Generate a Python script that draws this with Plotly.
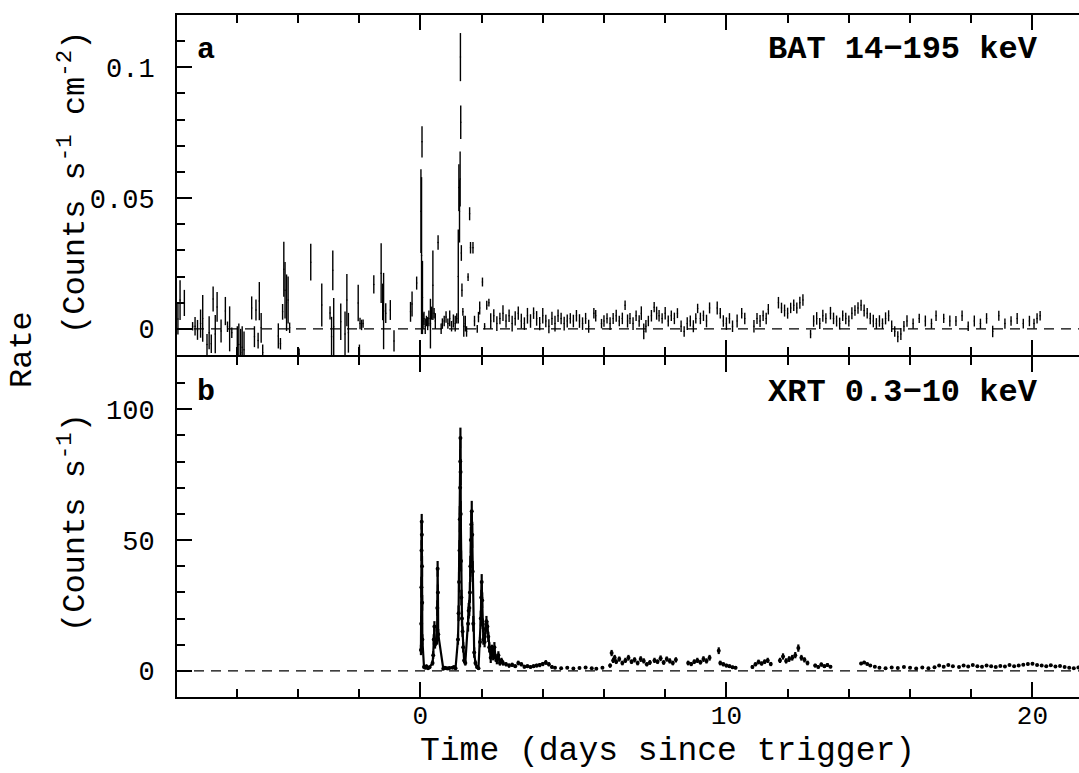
import plotly.graph_objects as go

# ---------------- BAT 14-195 keV (panel a) ----------------
bat_t_pre = [-7.92, -7.85, -7.71, -7.44, -7.36, -7.28, -7.18, -7.11, -6.97, -6.90,
             -6.83, -6.77, -6.70, -6.64, -6.51, -6.37, -6.30, -6.23, -6.16, -5.98,
             -5.93, -5.87, -5.82, -5.76, -5.51, -5.42, -5.37, -5.30, -5.26, -5.20,
             -5.15, -4.64, -4.57, -4.50, -4.46, -4.42, -4.37, -4.32, -4.27, -3.96,
             -3.58, -3.22, -2.95, -2.90, -2.86, -2.83, -2.60, -2.46, -2.40, -2.35,
             -2.03, -1.99, -1.97, -1.92, -1.87, -1.52, -1.28, -1.23, -1.20, -1.13,
             -0.98, -0.86, -0.32, -0.27, -0.12]
bat_r_pre = [0.0038, 0.0110, 0.0099, 0.0010, 0.0010, -0.0004, 0.0020, 0.0040, -0.0060, -0.0015,
             -0.0057, 0.0114, -0.0020, 0.0084, -0.0008, 0.0068, 0.0008, 0.0000, -0.0015, -0.0080,
             -0.0060, -0.0090, -0.0070, -0.0080, 0.0080, -0.0030, 0.0072, -0.0045, 0.0106, 0.0004,
             -0.0090, -0.0027, -0.0057, 0.0065, 0.0228, 0.0148, 0.0100, 0.0110, 0.0004, -0.0095,
             0.0255, 0.0091, 0.0061, -0.0030, 0.0224, 0.0008, 0.0027, -0.0020, 0.0110, -0.0015,
             0.0099, -0.0080, 0.0020, 0.0015, 0.0020, 0.0170, 0.0213, 0.0103, 0.0068, 0.0060,
             0.0072, -0.0046, 0.0065, 0.0095, 0.0175]
bat_e_pre = [0.0060, 0.0076, 0.0050, 0.0016, 0.0035, 0.0038, 0.0054, 0.0089, 0.0040, 0.0063,
             0.0035, 0.0048, 0.0073, 0.0057, 0.0044, 0.0054, 0.0020, 0.0086, 0.0020, 0.0090,
             0.0080, 0.0090, 0.0080, 0.0070, 0.0044, 0.0040, 0.0040, 0.0030, 0.0073, 0.0057,
             0.0030, 0.0048, 0.0022, 0.0030, 0.0105, 0.0108, 0.0108, 0.0090, 0.0020, 0.0020,
             0.0070, 0.0082, 0.0025, 0.0076, 0.0076, 0.0110, 0.0070, 0.0086, 0.0100, 0.0076,
             0.0070, 0.0020, 0.0022, 0.0020, 0.0016, 0.0035, 0.0114, 0.0070, 0.0146, 0.0038,
             0.0038, 0.0041, 0.0038, 0.0048, 0.0025]

bat_t_burst = [0.02, 0.04, 0.055, 0.07, 0.09, 0.12, 0.16, 0.20, 0.24, 0.28,
               0.33, 0.37, 0.41, 0.45, 0.49, 0.58, 0.68, 0.72, 0.78, 0.84,
               0.90, 0.96, 1.02, 1.08, 1.14, 1.19, 1.24, 1.26, 1.28, 1.30,
               1.31, 1.32, 1.34, 1.36, 1.39, 1.42, 1.47, 1.51, 1.56, 1.61,
               1.64, 1.72, 1.77, 1.86, 1.90, 1.94, 2.03, 2.10, 2.17, 2.24]
bat_r_burst = [0.045, 0.028, 0.0715, 0.012, 0.003, 0.004, 0.001, 0.003, 0.002, 0.004,
               0.002, 0.006, 0.0167, 0.006, 0.003, 0.033, 0.000, 0.002, 0.003, 0.0045,
               0.002, 0.004, 0.001, 0.003, 0.002, 0.004, 0.020, 0.054, 0.045, 0.0573,
               0.1039, 0.079, 0.029, 0.0148, 0.0065, 0.001, 0.002, -0.001, 0.0198, 0.044,
               0.031, 0.031, 0.003, 0.000, 0.0045, 0.008, 0.0179, 0.001, 0.009, 0.010]
bat_e_burst = [0.016, 0.030, 0.006, 0.014, 0.003, 0.0025, 0.003, 0.002, 0.0025, 0.003,
               0.0095, 0.0025, 0.0133, 0.002, 0.003, 0.0028, 0.002, 0.002, 0.002, 0.0022,
               0.002, 0.003, 0.002, 0.0025, 0.003, 0.002, 0.018, 0.0089, 0.012, 0.0105,
               0.0092, 0.0064, 0.003, 0.0025, 0.0015, 0.004, 0.003, 0.002, 0.0015, 0.0025,
               0.0022, 0.0022, 0.002, 0.0015, 0.002, 0.0025, 0.0017, 0.0012, 0.0017, 0.0015]

bat_t_late = [2.30, 2.40, 2.50, 2.60, 2.70, 2.80, 2.90, 3.00, 3.10, 3.20,
              3.30, 3.40, 3.50, 3.60, 3.70, 3.80, 3.90, 4.00, 4.10, 4.20,
              4.30, 4.40, 4.50, 4.60, 4.70, 4.80, 4.90, 5.00, 5.10, 5.20,
              5.30, 5.40, 5.50, 5.67, 5.73, 5.92, 6.00, 6.10, 6.20, 6.30,
              6.40, 6.50, 6.60, 6.69, 6.77, 6.85, 6.95, 7.05, 7.15, 7.22,
              7.30, 7.37, 7.45, 7.55, 7.64, 7.72, 7.80, 7.90, 8.00, 8.10,
              8.20, 8.30, 8.40, 8.52, 8.62, 8.72, 8.82, 8.92, 9.00, 9.06,
              9.15, 9.25, 9.35, 9.45, 9.70, 9.80, 9.90, 10.00, 10.10, 10.20,
              10.35, 10.50, 10.60, 10.90, 11.00, 11.10, 11.20, 11.30, 11.37, 11.70,
              11.80, 11.90, 12.00, 12.10, 12.20, 12.30, 12.40, 12.50, 12.75, 12.85,
              12.95, 13.05, 13.15, 13.25, 13.40, 13.50, 13.60, 13.70, 13.80, 13.90,
              14.00, 14.10, 14.20, 14.30, 14.40, 14.50, 14.60, 14.70, 14.80, 14.90,
              15.00, 15.10, 15.20, 15.30, 15.40, 15.50, 15.60, 15.70, 15.80, 15.90,
              16.10, 16.30, 16.50, 16.70, 16.85, 17.10, 17.30, 17.50, 17.70, 17.90,
              18.10, 18.30, 18.50, 18.70, 18.90, 19.10, 19.30, 19.50, 19.70, 19.90,
              20.05, 20.15, 20.25]
bat_r_late = [0.003, 0.005, 0.002, 0.004, 0.006, 0.003, 0.005, 0.002, 0.004, 0.006,
              0.003, 0.002, 0.005, 0.003, 0.006, 0.004, 0.002, 0.005, 0.003, 0.001,
              0.004, 0.002, 0.005, 0.004, 0.002, 0.003, 0.004, 0.003, 0.005, 0.003,
              0.002, 0.004, 0.001, 0.006, 0.005, 0.002, 0.003, 0.004, 0.002, 0.004,
              0.005, 0.003, 0.004, 0.009, 0.003, 0.004, 0.002, 0.005, 0.003, 0.006,
              -0.001, 0.001, 0.003, 0.005, 0.0083, 0.006, 0.005, 0.004, 0.006, 0.003,
              0.005, 0.004, 0.006, 0.001, -0.001, 0.002, 0.003, 0.001, 0.004, 0.0078,
              0.004, 0.005, 0.003, 0.008, 0.008, 0.006, 0.003, 0.002, 0.004, 0.001,
              0.003, 0.006, 0.004, 0.001, 0.004, 0.003, 0.005, 0.004, 0.0075, 0.010,
              0.008, 0.007, 0.006, 0.008, 0.009, 0.008, 0.010, 0.011, -0.002, 0.003,
              0.004, 0.002, 0.005, 0.004, 0.006, 0.004, 0.003, 0.002, 0.005, 0.004,
              0.003, 0.006, 0.007, 0.008, 0.009, 0.007, 0.006, 0.004, 0.003, 0.002,
              0.003, 0.002, 0.004, 0.005, 0.001, -0.001, -0.003, -0.002, 0.001, 0.003,
              0.002, 0.004, 0.003, 0.002, 0.005, 0.004, 0.003, 0.003, 0.005, 0.001,
              0.003, 0.002, 0.004, -0.001, 0.005, 0.002, 0.003, 0.004, 0.002, 0.003,
              0.002, 0.004, 0.005]
bat_e_late = [0.0030, 0.0025, 0.0028, 0.0022, 0.0030, 0.0026, 0.0024, 0.0030, 0.0027, 0.0025,
              0.0028, 0.0024, 0.0030, 0.0026, 0.0022, 0.0028, 0.0025, 0.0030, 0.0024, 0.0027,
              0.0025, 0.0030, 0.0024, 0.0022, 0.0026, 0.0025, 0.0020, 0.0024, 0.0022, 0.0026,
              0.0024, 0.0021, 0.0025, 0.0020, 0.0022, 0.0018, 0.0022, 0.0020, 0.0024, 0.0021,
              0.0023, 0.0020, 0.0022, 0.0018, 0.0025, 0.0021, 0.0024, 0.0020, 0.0022, 0.0026,
              0.0030, 0.0024, 0.0020, 0.0022, 0.0020, 0.0025, 0.0022, 0.0020, 0.0024, 0.0021,
              0.0020, 0.0022, 0.0019, 0.0022, 0.0020, 0.0024, 0.0021, 0.0023, 0.0020, 0.0018,
              0.0022, 0.0020, 0.0024, 0.0021, 0.0025, 0.0020, 0.0022, 0.0024, 0.0020, 0.0022,
              0.0025, 0.0020, 0.0022, 0.0024, 0.0021, 0.0023, 0.0020, 0.0022, 0.0020, 0.0022,
              0.0020, 0.0023, 0.0021, 0.0020, 0.0022, 0.0021, 0.0023, 0.0022, 0.0016, 0.0022,
              0.0024, 0.0021, 0.0023, 0.0020, 0.0024, 0.0022, 0.0021, 0.0023, 0.0020, 0.0022,
              0.0021, 0.0023, 0.0020, 0.0022, 0.0021, 0.0023, 0.0020, 0.0022, 0.0024, 0.0021,
              0.0022, 0.0020, 0.0023, 0.0021, 0.0022, 0.0020, 0.0021, 0.0023, 0.0020, 0.0022,
              0.0020, 0.0018, 0.0021, 0.0019, 0.0020, 0.0018, 0.0021, 0.0019, 0.0020, 0.0018,
              0.0021, 0.0019, 0.0020, 0.0022, 0.0019, 0.0020, 0.0018, 0.0021, 0.0019, 0.0020,
              0.0019, 0.0020, 0.0018]

# ---------------- XRT 0.3-10 keV (panel b) ----------------
xrt_t_flares = [0.020, 0.028, 0.034, 0.040, 0.045, 0.050, 0.055, 0.060, 0.066,
                0.12, 0.16, 0.20, 0.25, 0.30,
                0.40, 0.42, 0.44, 0.46, 0.48,
                0.545, 0.555, 0.565, 0.575, 0.585,
                0.75, 0.80, 0.85, 0.90, 0.95, 1.05, 1.10, 1.15,
                1.23, 1.25, 1.265, 1.28, 1.29, 1.30, 1.305, 1.31, 1.315, 1.32, 1.33, 1.34, 1.36, 1.38, 1.40, 1.43, 1.47,
                1.56, 1.58, 1.60, 1.62, 1.635, 1.65, 1.665, 1.68, 1.695, 1.71, 1.73, 1.76, 1.80, 1.85, 1.90,
                1.95, 1.975, 1.99, 2.005, 2.02, 2.04, 2.06,
                2.10, 2.13, 2.16, 2.19, 2.22, 2.25]
xrt_r_flares = [8, 18, 32, 46, 57, 52, 40, 26, 12,
                1.5, 1.2, 1.8, 1.0, 1.4,
                3, 6, 12, 17, 10,
                12, 24, 39, 30, 14,
                0.8, 1.2, 1.0, 0.9, 1.1, 1.2, 1.5, 1.0,
                12, 22, 34, 46, 58, 70, 80, 89, 76, 60, 42, 28, 20, 15, 9, 4, 3,
                18, 23, 24, 30, 40, 50, 56, 61, 52, 38, 18, 7, 3, 1.5, 1.0,
                11, 20, 28, 34, 27, 18, 12,
                11, 16, 19, 17, 13, 9]
xrt_e_flares = [2, 3, 4, 4, 3, 4, 4, 3, 2,
                0.4, 0.4, 0.4, 0.4, 0.4,
                1, 1.5, 2, 2, 1.5,
                2, 3, 3, 3, 2,
                0.4, 0.4, 0.4, 0.4, 0.4, 0.4, 0.4, 0.4,
                2, 3, 4, 4, 5, 5, 5, 4, 5, 5, 4, 3, 3, 2, 2, 1, 1,
                3, 3, 3, 4, 4, 5, 5, 4, 5, 4, 3, 2, 1, 0.5, 0.5,
                2, 3, 3, 3, 3, 2, 2,
                2, 2, 2, 2, 2, 2]

xrt_t_decay = [2.30, 2.34, 2.38, 2.42, 2.46, 2.50, 2.55, 2.60, 2.65, 2.70,
               2.80, 2.90, 3.00, 3.10, 3.20, 3.30, 3.40, 3.50, 3.60, 3.70,
               3.80, 3.90, 4.00, 4.10, 4.20, 4.30, 4.40, 4.60, 4.80, 5.00,
               5.20, 5.40, 5.60, 5.75, 5.95]
xrt_r_decay = [5, 8, 6, 9, 5, 4, 6, 3, 4, 3,
               2.5, 2, 2.3, 1.8, 3, 2.5, 1.6, 1.8, 1.5, 1.8,
               2, 2.2, 2.6, 3.2, 2.5, 1.5, 1.2, 1.0, 1.2, 0.9,
               1.1, 1.3, 1.0, 0.8, 1.2]
xrt_e_decay = [2, 2, 2, 2, 1.5, 1.5, 1.5, 1, 1, 1,
               0.8, 0.8, 0.8, 0.7, 0.9, 0.8, 0.7, 0.7, 0.6, 0.7,
               0.7, 0.8, 0.8, 0.9, 0.8, 0.6, 0.5, 0.5, 0.5, 0.4,
               0.5, 0.5, 0.4, 0.4, 0.5]

xrt_t_mid = [6.20, 6.25, 6.30, 6.35, 6.40, 6.50, 6.60, 6.70, 6.80, 6.90,
             7.00, 7.10, 7.20, 7.30, 7.40, 7.50, 7.65, 7.75, 7.85, 7.95,
             8.05, 8.15, 8.25, 8.35, 8.75, 8.85, 8.95, 9.05, 9.15, 9.25,
             9.35, 9.45, 9.75, 9.80, 9.90, 10.00, 10.10, 10.20, 10.30, 10.85,
             10.95, 11.05, 11.15, 11.25, 11.35, 11.45, 11.75, 11.85, 11.95, 12.05,
             12.15, 12.25, 12.35, 12.45, 12.55, 12.65, 12.90, 13.00, 13.10, 13.20,
             13.30, 13.40]
xrt_r_mid = [2, 6.8, 4, 5, 3.5, 4.5, 3, 4, 5, 3.5,
             4.2, 3, 4.5, 3.8, 2.5, 3.2, 4, 3.5, 4.8, 3.2,
             4.5, 3.8, 3, 4.2, 3, 2.6, 3.5, 4, 3.3, 4.5,
             3.8, 5, 7.7, 3, 2.5, 2, 1.8, 1.4, 1.2, 1.5,
             2.5, 3.4, 2.8, 3.5, 4, 2.6, 4, 5.5, 3.8, 4.5,
             5, 6, 8.7, 5, 4.2, 3, 2, 1.5, 2.4, 1.8,
             2.2, 1.6]
xrt_e_mid = [0.8, 1.2, 1.0, 1.1, 0.9, 1.0, 0.9, 1.0, 1.1, 0.9,
             1.0, 0.9, 1.1, 1.0, 0.8, 0.9, 1.0, 0.9, 1.1, 0.9,
             1.0, 1.0, 0.9, 1.0, 0.9, 0.8, 0.9, 1.0, 0.9, 1.1,
             1.0, 1.1, 1.3, 0.9, 0.8, 0.7, 0.7, 0.6, 0.6, 0.7,
             0.8, 0.9, 0.8, 0.9, 1.0, 0.8, 1.0, 1.2, 1.0, 1.1,
             1.1, 1.2, 1.4, 1.1, 1.0, 0.9, 0.7, 0.6, 0.8, 0.7,
             0.7, 0.6]

xrt_t_late = [14.40, 14.50, 14.60, 14.70, 14.85, 15.00, 15.20, 15.40, 15.60, 15.80,
              16.00, 16.20, 16.40, 16.60, 16.80, 16.95, 17.10, 17.25, 17.40, 17.60,
              17.75, 17.90, 18.05, 18.20, 18.35, 18.50, 18.65, 18.80, 18.95, 19.10,
              19.25, 19.40, 19.55, 19.70, 19.85, 20.00, 20.15, 20.30, 20.45, 20.60,
              20.75, 20.90, 21.05, 21.20, 21.35, 21.50]
xrt_r_late = [2.8, 3.2, 2.6, 2.0, 1.6, 1.2, 1.0, 1.3, 1.1, 1.5,
              1.2, 0.9, 1.3, 1.0, 1.4, 2.0, 1.6, 2.2, 1.8, 1.5,
              2.0, 1.7, 2.2, 1.8, 1.6, 2.0, 1.8, 1.5, 1.9, 1.7,
              2.2, 1.8, 2.0, 2.3, 2.6, 2.7, 2.2, 2.0, 1.8, 2.1,
              1.7, 1.9, 1.5, 1.2, 1.0, 1.3]
xrt_e_late = [0.6, 0.6, 0.5, 0.5, 0.4, 0.4, 0.3, 0.4, 0.3, 0.4,
              0.4, 0.3, 0.4, 0.3, 0.4, 0.4, 0.4, 0.4, 0.4, 0.3,
              0.4, 0.3, 0.4, 0.4, 0.3, 0.4, 0.4, 0.3, 0.4, 0.3,
              0.4, 0.4, 0.4, 0.4, 0.5, 0.5, 0.4, 0.4, 0.4, 0.4,
              0.3, 0.4, 0.3, 0.3, 0.3, 0.3]

bat_t = bat_t_pre + bat_t_burst + bat_t_late
bat_rate = bat_r_pre + bat_r_burst + bat_r_late
bat_err = bat_e_pre + bat_e_burst + bat_e_late
xrt_t = xrt_t_flares + xrt_t_decay + xrt_t_mid + xrt_t_late
xrt_rate = xrt_r_flares + xrt_r_decay + xrt_r_mid + xrt_r_late
xrt_err = xrt_e_flares + xrt_e_decay + xrt_e_mid + xrt_e_late

x_range = [-7.95, 21.52]
bat_range = [-0.01, 0.12]
xrt_range = [-10, 120]

FONT = "Liberation Mono"
BLACK = "black"
PLOT_H = 682  # plot-area height in px (773 - 15 - 76)

fig = go.Figure()
fig.add_trace(go.Scatter(
    x=bat_t, y=bat_rate, mode="markers", xaxis="x2", yaxis="y2",
    marker=dict(size=1.5, color=BLACK),
    error_y=dict(type="data", array=bat_err, visible=True, color=BLACK, thickness=1.4, width=0),
    showlegend=False, hoverinfo="skip"))
# dense flare-time XRT points: drawn joined so the flares read as solid spikes
fig.add_trace(go.Scatter(
    x=xrt_t_flares + xrt_t_decay[:10], y=xrt_r_flares + xrt_r_decay[:10],
    mode="lines", xaxis="x", yaxis="y",
    line=dict(color=BLACK, width=2.2),
    showlegend=False, hoverinfo="skip"))
fig.add_trace(go.Scatter(
    x=xrt_t, y=xrt_rate, mode="markers", xaxis="x", yaxis="y",
    marker=dict(size=4, color=BLACK),
    error_y=dict(type="data", array=xrt_err, visible=True, color=BLACK, thickness=2.2, width=0),
    showlegend=False, hoverinfo="skip"))

minor_x = dict(ticks="inside", ticklen=8, tickwidth=1.5, tickcolor=BLACK, dtick=2, tick0=0, showgrid=False)
common_x = dict(range=x_range, showline=True, linecolor=BLACK, linewidth=2, mirror="ticks",
                ticks="inside", ticklen=15, tickwidth=1.5, tickcolor=BLACK,
                tickmode="linear", tick0=0, dtick=10, minor=minor_x,
                showgrid=False, zeroline=False)
common_y = dict(showline=True, linecolor=BLACK, linewidth=2, mirror=False,
                ticks="inside", ticklen=15, tickwidth=1.5, tickcolor=BLACK,
                showgrid=False, zeroline=False, ticklabelstandoff=15,
                tickfont=dict(family=FONT, size=27, color=BLACK))

# small gap so the shared middle frame line is drawn once (2 px)
gap = 2.0 / PLOT_H
fig.update_layout(
    width=1079, height=773,
    margin=dict(l=177, r=0, t=15, b=76),
    paper_bgcolor="white", plot_bgcolor="white",
    xaxis=dict(**common_x, domain=[0, 1], anchor="y", ticklabelstandoff=-6,
               tickfont=dict(family=FONT, size=26, color=BLACK)),
    xaxis2=dict(**common_x, domain=[0, 1], anchor="y2", matches="x", showticklabels=False),
    yaxis=dict(**common_y, domain=[0, 0.5 - gap / 2], range=xrt_range, anchor="x",
               tickmode="linear", tick0=0, dtick=50,
               minor=dict(ticks="inside", ticklen=8, tickwidth=1.5, tickcolor=BLACK, dtick=10, tick0=0, showgrid=False)),
    yaxis2=dict(**common_y, domain=[0.5 + gap / 2, 1], range=bat_range, anchor="x2",
                tickmode="linear", tick0=0, dtick=0.05,
                minor=dict(ticks="inside", ticklen=8, tickwidth=1.5, tickcolor=BLACK, dtick=0.01, tick0=0, showgrid=False)),
)

dash_line = dict(color=BLACK, width=1.3, dash="10px,7px")
fig.add_shape(type="line", xref="x domain", yref="y", x0=0, x1=1, y0=0, y1=0, line=dash_line)
fig.add_shape(type="line", xref="x2 domain", yref="y2", x0=0, x1=1, y0=0, y1=0, line=dash_line)

def ann(text, x, y, size, xanchor="center", angle=0, bold=False):
    fig.add_annotation(text=text, x=x, y=y, xref="paper", yref="paper", showarrow=False,
                       xanchor=xanchor, yanchor="middle", textangle=angle,
                       font=dict(family=FONT, size=size, color=BLACK,
                                 weight="bold" if bold else "normal"))

ann("Rate", -0.1707, 0.5088, 32, angle=-90)
ann("(Counts s<sup>-1</sup> cm<sup>-2</sup>)", -0.1153, 0.7551, 32, angle=-90)
ann("(Counts s<sup>-1</sup>)", -0.1153, 0.2566, 32, angle=-90)
ann("a", 0.020, 0.9487, 30, xanchor="left", bold=True)
ann("b", 0.020, 0.4472, 30, xanchor="left", bold=True)
ann("BAT 14\u2212195 keV", 0.9568, 0.9487, 32, xanchor="right", bold=True)
ann("XRT 0.3\u221210 keV", 0.9568, 0.4472, 32, xanchor="right", bold=True)
ann("Time (days since trigger)", 0.544, -0.0806, 33)

fig.write_html("out.html")
